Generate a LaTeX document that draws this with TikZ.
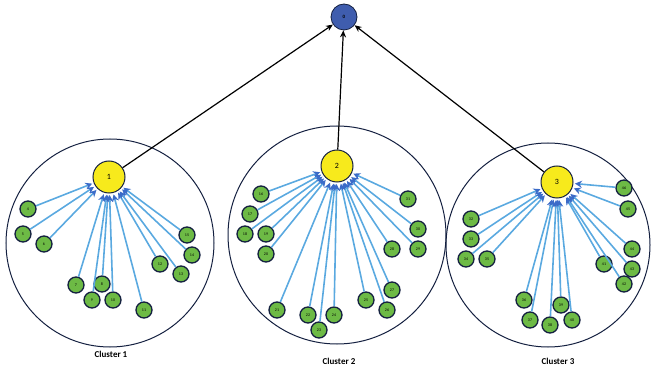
\documentclass[tikz,border=0pt]{standalone}
\usepackage{fontspec}
\setmainfont{Carlito}
\usetikzlibrary{arrows.meta}

\definecolor{rootblue}{HTML}{3F5DAE}
\definecolor{headyellow}{HTML}{F7EA1C}
\definecolor{memgreen}{HTML}{6DBA45}
\definecolor{linkblue}{HTML}{5AA9E0}
\definecolor{tipblue}{HTML}{3B6BC8}
\definecolor{rimnavy}{HTML}{142040}

\tikzset{
  root/.style={circle, draw=rimnavy, thick, fill=rootblue, minimum size=26pt, inner sep=0pt, font=\fontsize{5}{5}\selectfont\bfseries},
  head/.style={circle, draw=rimnavy, line width=1pt, fill=headyellow, minimum size=32pt, inner sep=0pt, font=\fontsize{8}{8}\selectfont},
  member/.style={circle, draw=rimnavy, line width=1.3pt, fill=memgreen, minimum size=16pt, inner sep=0pt, font=\fontsize{4}{4}\selectfont},
  clusterring/.style={draw=rimnavy, line width=1pt},
  uplink/.style={-{Stealth[length=7pt,width=6pt]}, line width=1.2pt, black},
  link/.style={-{Stealth[length=7pt,width=7pt,color=tipblue]}, line width=1.6pt, linkblue, shorten >=1.5pt}
}

\begin{document}
\begin{tikzpicture}[x=1pt, y=-1pt]
  \useasboundingbox (0,0) rectangle (656,371);

  % cluster areas
  \draw[clusterring] (110,243) circle (104);
  \draw[clusterring] (337,235) circle (109);
  \draw[clusterring] (548,245) circle (102);

  % sink and cluster heads
  \node[root] (r0) at (344,17) {0};
  \node[head] (h1) at (109,177) {1};
  \node[head] (h2) at (337,166) {2};
  \node[head] (h3) at (557,182) {3};

  % members of cluster 1
  \foreach \n/\x/\y in {4/28/209, 5/23/234, 6/44/244, 7/76/285, 8/102/284,
      9/92/300, 10/113/300, 11/144/310, 12/160/264, 13/181/274, 14/192/255, 15/187/235} {
    \node[member] (m\n) at (\x,\y) {\n};
    \draw[link] (m\n) -- (h1);
  }

  % members of cluster 2
  \foreach \n/\x/\y in {16/261/194, 17/250/214, 18/245/234, 19/266/234, 20/266/254,
      21/277/310, 22/308/315, 23/319/330, 24/334/315, 25/366/300, 26/387/310,
      27/392/290, 28/392/249, 29/418/249, 30/418/229, 31/408/199} {
    \node[member] (m\n) at (\x,\y) {\n};
    \draw[link] (m\n) -- (h2);
  }

  % members of cluster 3
  \foreach \n/\x/\y in {32/471/219, 33/471/239, 34/466/259, 35/487/259, 36/524/300,
      37/530/320, 38/550/325, 39/561/305, 40/572/320, 41/604/264, 42/624/284,
      43/632/269, 44/632/249, 45/628/209, 46/624/188} {
    \node[member] (m\n) at (\x,\y) {\n};
    \draw[link] (m\n) -- (h3);
  }

  % heads to sink
  \draw[uplink] (h1) -- (r0);
  \draw[uplink] (h2) -- (r0);
  \draw[uplink] (h3) -- (r0);

  \node[font=\fontsize{9}{9}\selectfont\bfseries] (c1) at (111,354) {Cluster 1};
  \node[font=\fontsize{9}{9}\selectfont\bfseries] (c2) at (339,361) {Cluster 2};
  \node[font=\fontsize{9}{9}\selectfont\bfseries] (c3) at (558,361) {Cluster 3};
\end{tikzpicture}
\end{document}
